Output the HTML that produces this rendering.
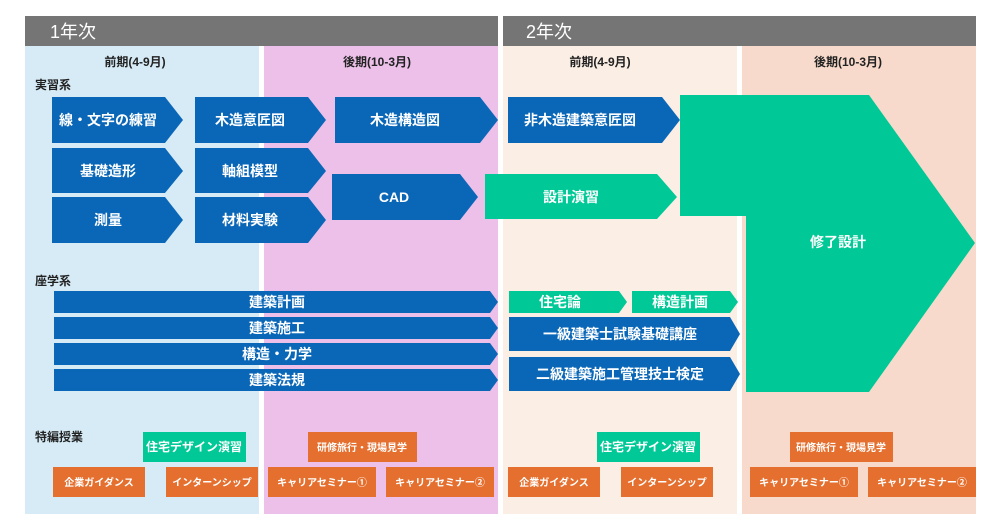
<!DOCTYPE html>
<html><head><meta charset="utf-8"><style>
html,body{margin:0;padding:0;background:#fff;}
svg{display:block;}
text{font-family:"Liberation Sans","Noto Sans CJK JP",sans-serif;}
</style></head><body>
<svg width="1000" height="528" viewBox="0 0 1000 528" xmlns="http://www.w3.org/2000/svg">
<rect x="25" y="16" width="473" height="30" fill="#757575"/>
<rect x="503" y="16" width="473" height="30" fill="#757575"/>
<text x="50" y="38" font-size="18" fill="#fff">1年次</text>
<text x="526" y="38" font-size="18" fill="#fff">2年次</text>
<rect x="25" y="46" width="234" height="468" fill="#d6ebf6"/>
<rect x="264" y="46" width="234" height="468" fill="#ecc0e8"/>
<rect x="503" y="46" width="234" height="468" fill="#fbeee5"/>
<rect x="742" y="46" width="234" height="468" fill="#f7dacb"/>
<g font-size="12" font-weight="bold" fill="#222" text-anchor="middle">
<text x="135" y="66">前期(4-9月)</text>
<text x="377" y="66">後期(10-3月)</text>
<text x="600" y="66">前期(4-9月)</text>
<text x="848" y="66">後期(10-3月)</text>
</g>
<g font-size="12" font-weight="bold" fill="#222">
<text x="35" y="89">実習系</text>
<text x="35" y="285">座学系</text>
<text x="35" y="441">特編授業</text>
</g>
<g fill="#0a67b8">
<polygon points="52,97 165,97 183,120 165,143 52,143"/>
<polygon points="195,97 308,97 326,120 308,143 195,143"/>
<polygon points="335,97 480,97 498,120 480,143 335,143"/>
<polygon points="52,148 165,148 183,171 165,193 52,193"/>
<polygon points="195,148 308,148 326,171 308,193 195,193"/>
<polygon points="52,197 165,197 183,220 165,243 52,243"/>
<polygon points="195,197 308,197 326,220 308,243 195,243"/>
<polygon points="332,174 460,174 478,197 460,220 332,220"/>
<polygon points="508,97 662,97 680,120 662,143 508,143"/>
<polygon points="54,291 490,291 498,302 490,313 54,313"/>
<polygon points="54,317 490,317 498,328 490,339 54,339"/>
<polygon points="54,343 490,343 498,354 490,365 54,365"/>
<polygon points="54,369 490,369 498,380 490,391 54,391"/>
<polygon points="509,317 730,317 740,334 730,351 509,351"/>
<polygon points="509,357 730,357 740,374 730,391 509,391"/>
</g>
<g fill="#00c896">
<polygon points="485,174 657,174 677,197 657,219 485,219"/>
<polygon points="680,95 869,95 975,243 869,392 746,392 746,216 680,216"/>
<polygon points="509,291 619,291 627,302 619,313 509,313"/>
<polygon points="632,291 730,291 738,302 730,313 632,313"/>
<rect x="143" y="432" width="103" height="30"/>
<rect x="597" y="432" width="103" height="30"/>
</g>
<g fill="#e56f2e">
<rect x="308" y="432" width="109" height="30"/>
<rect x="790" y="432" width="103" height="30"/>
<rect x="53" y="467" width="92" height="30"/>
<rect x="166" y="467" width="92" height="30"/>
<rect x="268" y="467" width="108" height="30"/>
<rect x="386" y="467" width="108" height="30"/>
<rect x="508" y="467" width="92" height="30"/>
<rect x="621" y="467" width="92" height="30"/>
<rect x="750" y="467" width="108" height="30"/>
<rect x="868" y="467" width="108" height="30"/>
</g>
<g fill="#fff" font-size="14" font-weight="bold" text-anchor="middle">
<text x="108" y="125">線・文字の練習</text>
<text x="250" y="125">木造意匠図</text>
<text x="405" y="125">木造構造図</text>
<text x="108" y="176">基礎造形</text>
<text x="250" y="176">軸組模型</text>
<text x="108" y="225">測量</text>
<text x="250" y="225">材料実験</text>
<text x="394" y="202">CAD</text>
<text x="580" y="125">非木造建築意匠図</text>
<text x="571" y="202">設計演習</text>
<text x="838" y="247">修了設計</text>
<text x="277" y="307">建築計画</text>
<text x="277" y="333">建築施工</text>
<text x="277" y="359">構造・力学</text>
<text x="277" y="385">建築法規</text>
<text x="560" y="307">住宅論</text>
<text x="680" y="307">構造計画</text>
<text x="620" y="339">一級建築士試験基礎講座</text>
<text x="620" y="379">二級建築施工管理技士検定</text>
</g>
<g fill="#fff" font-size="12" font-weight="bold" text-anchor="middle">
<text x="194" y="451">住宅デザイン演習</text>
<text x="648" y="451">住宅デザイン演習</text>
</g>
<g fill="#fff" font-size="10" font-weight="bold" text-anchor="middle">
<text x="362" y="451">研修旅行・現場見学</text>
<text x="841" y="451">研修旅行・現場見学</text>
<text x="99" y="486">企業ガイダンス</text>
<text x="212" y="486">インターンシップ</text>
<text x="322" y="486">キャリアセミナー①</text>
<text x="440" y="486">キャリアセミナー②</text>
<text x="554" y="486">企業ガイダンス</text>
<text x="667" y="486">インターンシップ</text>
<text x="804" y="486">キャリアセミナー①</text>
<text x="922" y="486">キャリアセミナー②</text>
</g>
</svg>
</body></html>
